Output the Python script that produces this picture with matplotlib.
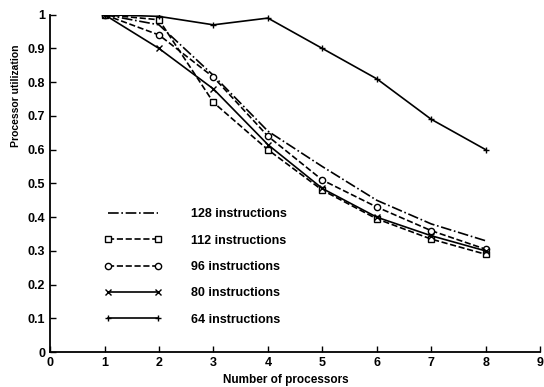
import matplotlib.pyplot as plt

plt.rcParams['font.family'] = ['Liberation Sans', 'DejaVu Sans']

procs = [1, 2, 3, 4, 5, 6, 7, 8]
u128 = [1.0, 0.97, 0.82, 0.655, 0.55, 0.45, 0.38, 0.33]
u112 = [1.0, 0.985, 0.74, 0.60, 0.48, 0.395, 0.335, 0.29]
u96 = [1.0, 0.94, 0.815, 0.64, 0.51, 0.43, 0.36, 0.305]
u80 = [1.0, 0.90, 0.78, 0.615, 0.485, 0.40, 0.345, 0.30]
u64 = [1.0, 0.995, 0.97, 0.99, 0.90, 0.81, 0.69, 0.60]

labels = ['128 instructions', '112 instructions', '96 instructions',
          '80 instructions', '64 instructions']
xticks = list(range(10))
yticks = [0, 0.1, 0.2, 0.3, 0.4, 0.5, 0.6, 0.7, 0.8, 0.9, 1]

fig = plt.figure(figsize=(5.44, 3.87), dpi=100)
ax = fig.add_axes([0.092, 0.09, 0.901, 0.872])

k = dict(color='black', lw=1.2, ms=4.5, mfc='white', mew=1.0)
ax.plot(procs, u128, '-.', label=labels[0], **k)
ax.plot(procs, u112, '--s', label=labels[1], **k)
ax.plot(procs, u96, '--o', label=labels[2], **k)
ax.plot(procs, u80, '-x', label=labels[3], **k)
ax.plot(procs, u64, '-+', label=labels[4], **k)

ax.set_xlim(0, 9)
ax.set_ylim(0, 1)
ax.set_xticks(xticks)
ax.set_yticks(yticks)
ax.set_yticklabels(['0', '0.1', '0.2', '0.3', '0.4', '0.5', '0.6', '0.7', '0.8', '0.9', '1'])
ax.tick_params(direction='in', length=4, labelsize=9, width=1)
for t in ax.get_xticklabels() + ax.get_yticklabels():
    t.set_fontweight('bold')
ax.spines['top'].set_visible(False)
ax.spines['right'].set_visible(False)
ax.spines['left'].set_linewidth(1.3)
ax.spines['bottom'].set_linewidth(1.3)

ax.set_xlabel('Number of processors', fontsize=8.5, fontweight='bold')
ax.xaxis.set_label_coords(0.48, -0.065)
ax.set_ylabel('Processor utilization', fontsize=7.5, fontweight='bold')
ax.yaxis.set_label_coords(-0.06, 0.76)

leg = ax.legend(loc='upper left', bbox_to_anchor=(0.088, 0.46), frameon=False,
                numpoints=2, handlelength=4.6, handletextpad=2.3,
                labelspacing=1.15, prop={'size': 9, 'weight': 'bold'})

fig.savefig('out.png', dpi=100)
